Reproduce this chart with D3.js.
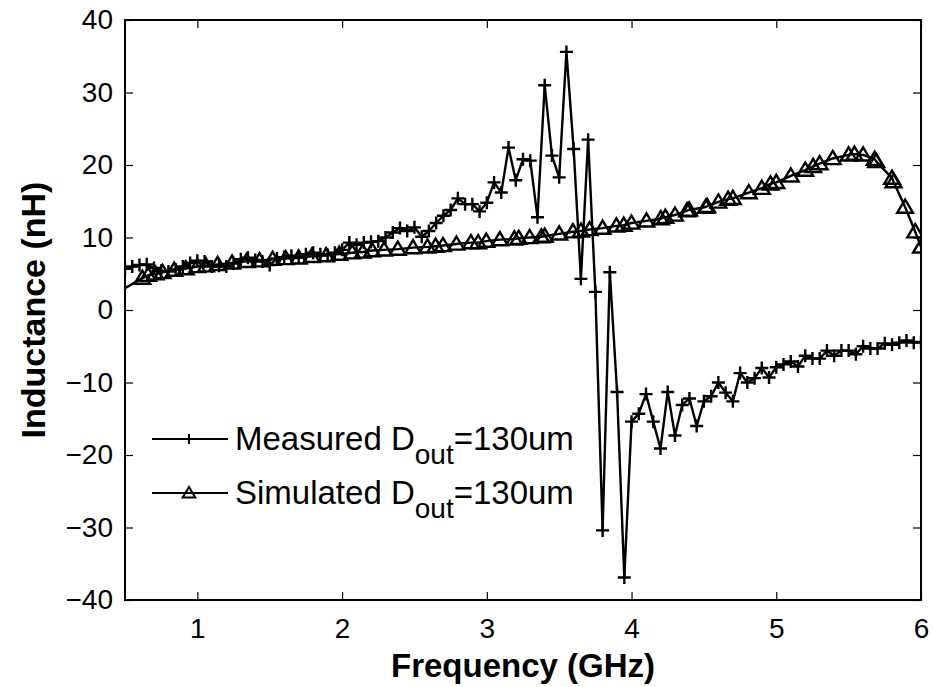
<!DOCTYPE html>
<html><head><meta charset="utf-8">
<script src="https://cdn.jsdelivr.net/npm/d3@7"></script>
<style>
html,body{margin:0;padding:0;background:#fff;}
svg text{font-family:"Liberation Sans",Arial,Helvetica,sans-serif;fill:#000;}
</style></head>
<body>
<svg id="chart" width="933" height="687"></svg>
<script>
const measuredFreq = [0.50,0.55,0.60,0.65,0.70,0.75,0.80,0.85,0.90,0.95,1.00,1.05,1.10,1.15,1.20,1.25,1.30,1.35,1.40,1.45,1.50,1.55,1.60,1.65,1.70,1.75,1.80,1.85,1.90,1.95,2.00,2.05,2.10,2.15,2.20,2.25,2.30,2.35,2.40,2.45,2.50,2.55,2.60,2.65,2.70,2.75,2.80,2.85,2.90,2.95,3.00,3.05,3.10,3.15,3.20,3.25,3.30,3.35,3.40,3.45,3.50,3.55,3.60,3.65,3.70,3.75,3.80,3.85,3.90,3.95,4.00,4.05,4.10,4.15,4.20,4.25,4.30,4.35,4.40,4.45,4.50,4.55,4.60,4.65,4.70,4.75,4.80,4.85,4.90,4.95,5.00,5.05,5.10,5.15,5.20,5.25,5.30,5.35,5.40,5.45,5.50,5.55,5.60,5.65,5.70,5.75,5.80,5.85,5.90,5.95,6.00];
const measuredL = [5.7,6.0,6.2,6.3,5.8,5.4,5.3,5.6,6.0,6.5,6.8,6.7,6.0,6.1,6.0,6.4,7.0,7.2,6.9,6.7,6.2,7.1,7.3,7.5,7.3,7.7,7.9,7.7,7.6,7.9,8.3,9.3,9.0,9.3,9.4,9.5,10.0,10.7,11.3,10.9,11.4,10.1,10.9,12.0,13.0,13.8,15.4,14.6,14.6,13.6,14.8,17.6,16.2,22.4,17.9,20.8,20.6,12.8,31.0,21.3,18.3,35.6,22.2,4.3,23.5,2.5,-30.4,5.2,-11.3,-36.9,-15.4,-14.3,-11.6,-15.4,-19.1,-11.3,-17.3,-13.1,-12.2,-16.0,-12.6,-11.9,-10.0,-11.4,-12.6,-8.7,-10.0,-9.4,-8.0,-9.3,-7.9,-7.5,-7.1,-7.8,-6.3,-6.7,-6.7,-5.6,-6.3,-5.6,-5.6,-6.1,-5.0,-5.3,-5.3,-4.6,-4.8,-4.5,-4.2,-4.5,-4.4];
const simFreq = [0.5,0.62,0.66,0.71,0.76,0.84,0.92,1.0,1.06,1.14,1.24,1.34,1.43,1.52,1.61,1.7,1.79,1.89,1.98,2.07,2.143,2.208,2.29,2.385,2.49,2.59,2.646,2.697,2.79,2.89,2.94,2.996,3.09,3.19,3.22,3.296,3.377,3.40,3.50,3.595,3.65,3.71,3.80,3.895,3.946,3.999,4.103,4.202,4.234,4.30,4.384,4.398,4.513,4.522,4.60,4.667,4.70,4.81,4.90,4.96,5.00,5.10,5.20,5.255,5.30,5.39,5.50,5.54,5.60,5.68,5.69,5.80,5.81,5.89,5.96,6.0];
const simL = [3.0,4.4,4.8,5.0,5.2,5.5,5.7,6.0,6.1,6.3,6.5,6.7,6.8,7.0,7.1,7.2,7.4,7.5,7.7,7.9,8.0,8.2,8.3,8.4,8.6,8.7,8.8,8.9,9.1,9.3,9.3,9.5,9.7,9.8,9.9,10.0,10.1,10.2,10.5,10.8,10.9,11.1,11.3,11.6,11.7,12.0,12.3,12.6,12.8,13.1,13.7,13.8,14.2,14.3,14.9,15.3,15.4,16.2,16.8,17.4,17.6,18.5,19.3,19.8,20.2,20.9,21.4,21.5,21.4,20.8,20.5,18.2,17.7,14.2,10.8,8.7];
const xTicks = [1,2,3,4,5,6];
const yTicks = [-40,-30,-20,-10,0,10,20,30,40];
const legendLabels = ["Measured D","Simulated D"];
const legendSub = "out";
const legendTail = "=130um";

const L = 125, R = 921, T = 20, B = 600;
const svg = d3.select("#chart");
const x = d3.scaleLinear().domain([0.5, 6]).range([L, R]);
const y = d3.scaleLinear().domain([-40, 40]).range([B, T]);

svg.append("defs").append("clipPath").attr("id","clip")
  .append("rect").attr("x",L).attr("y",T).attr("width",R-L).attr("height",B-T);

const tickLen = 8;
const gx = svg.append("g").attr("transform",`translate(0,${B})`)
  .call(d3.axisBottom(x).tickValues(xTicks).tickSize(-tickLen).tickPadding(18).tickFormat(d3.format("d")));
const gxt = svg.append("g").attr("transform",`translate(0,${T})`)
  .call(d3.axisTop(x).tickValues(xTicks).tickSize(-tickLen).tickFormat(""));
const gy = svg.append("g").attr("transform",`translate(${L},0)`)
  .call(d3.axisLeft(y).tickValues(yTicks).tickSize(-tickLen).tickPadding(tickLen+4).tickFormat(d => d < 0 ? "\u2212" + Math.abs(d) : d));
const gyr = svg.append("g").attr("transform",`translate(${R},0)`)
  .call(d3.axisRight(y).tickValues(yTicks).tickSize(-tickLen).tickFormat(""));
[gx,gxt,gy,gyr].forEach(g => {
  g.select(".domain").remove();
  g.selectAll(".tick line").attr("stroke","#000").attr("stroke-width",1.2);
  g.selectAll(".tick text").attr("font-size",28).attr("font-family","Liberation Sans, Arial, sans-serif").attr("fill","#000");
});
gx.selectAll(".tick text").attr("dy","0.71em");
svg.append("rect").attr("x",L).attr("y",T).attr("width",R-L).attr("height",B-T)
  .attr("fill","none").attr("stroke","#000").attr("stroke-width",2);

const plot = svg.append("g").attr("clip-path","url(#clip)");
const line = d3.line().x(d => x(d[0])).y(d => y(d[1]));
const meas = measuredFreq.map((f,i) => [f, measuredL[i]]);
const sim = simFreq.map((f,i) => [f, simL[i]]);

plot.append("path").datum(sim).attr("d",line).attr("fill","none").attr("stroke","#000").attr("stroke-width",2.4).attr("stroke-linejoin","round");
plot.append("path").datum(meas).attr("d",line).attr("fill","none").attr("stroke","#000").attr("stroke-width",2.4).attr("stroke-linejoin","round");

const triPath = (cx, cy, s) => `M${cx},${cy - s}L${cx + s*1.05},${cy + s*0.75}L${cx - s*1.05},${cy + s*0.75}Z`;
const plusPath = (cx, cy, s) => `M${cx - s},${cy}H${cx + s}M${cx},${cy - s}V${cy + s}`;

plot.selectAll("path.tri").data(sim.slice(1)).join("path").attr("class","tri")
  .attr("d", d => triPath(x(d[0]), y(d[1]), 7.5)).attr("fill","none").attr("stroke","#000").attr("stroke-width",2.4);
plot.selectAll("path.plus").data(meas).join("path").attr("class","plus")
  .attr("d", d => plusPath(x(d[0]), y(d[1]), 6.5)).attr("fill","none").attr("stroke","#000").attr("stroke-width",2.4);

svg.append("text").attr("x",(L+R)/2).attr("y",677).attr("text-anchor","middle")
  .attr("font-size",33).attr("font-weight","bold").text("Frequency (GHz)");
svg.append("text").attr("transform",`translate(45,${(T+B)/2}) rotate(-90)`).attr("text-anchor","middle")
  .attr("font-size",34).attr("font-weight","bold").text("Inductance (nH)");

const legY = [439, 493];
legendLabels.forEach((lab, i) => {
  const ly = legY[i];
  svg.append("line").attr("x1",152).attr("x2",228).attr("y1",ly).attr("y2",ly).attr("stroke","#000").attr("stroke-width",2);
  if (i === 0) svg.append("path").attr("d", plusPath(189, ly, 5)).attr("stroke","#000").attr("stroke-width",2).attr("fill","none");
  else svg.append("path").attr("d", triPath(189, ly, 6)).attr("stroke","#000").attr("stroke-width",2).attr("fill","none");
  const t = svg.append("text").attr("x",235).attr("y",ly + 11).attr("font-size",33);
  t.append("tspan").text(lab);
  t.append("tspan").attr("dy",14).attr("font-size",28).text(legendSub);
  t.append("tspan").attr("dy",-14).text(legendTail);
});
</script>
</body></html>
